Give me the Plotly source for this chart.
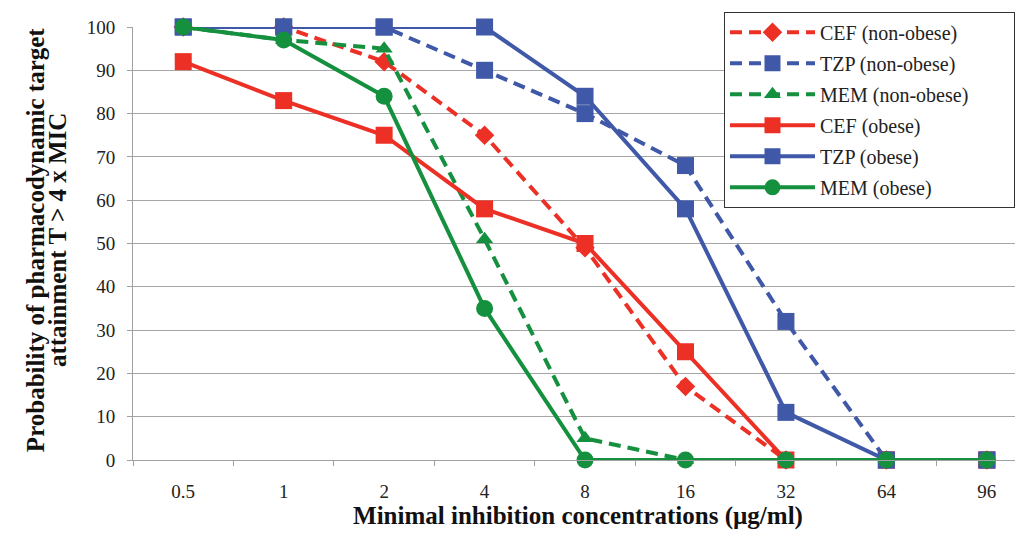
import plotly.graph_objects as go

categories = ["0.5", "1", "2", "4", "8", "16", "32", "64", "96"]

cef_nonobese = [100, 100, 92, 75, 49, 17, 0, 0, 0]
tzp_nonobese = [100, 100, 100, 90, 80, 68, 32, 0, 0]
mem_nonobese = [100, 97, 95, 51, 5, 0, 0, 0, 0]
cef_obese = [92, 83, 75, 58, 50, 25, 0, 0, 0]
tzp_obese = [100, 100, 100, 100, 84, 58, 11, 0, 0]
mem_obese = [100, 97, 84, 35, 0, 0, 0, 0, 0]

y_title_lines = ["Probability of pharmacodynamic target", "attainment T > 4 x MIC"]
x_title = "Minimal inhibition concentrations (µg/ml)"

RED = "#EC3026"
BLUE = "#4058A8"
GREEN = "#15903F"
DASH = "12px,7px"

series = [
    ("CEF (non-obese)", cef_nonobese, RED, DASH, "diamond", 15),
    ("TZP (non-obese)", tzp_nonobese, BLUE, DASH, "square", 17),
    ("MEM (non-obese)", mem_nonobese, GREEN, DASH, "triangle-up", 15),
    ("CEF (obese)", cef_obese, RED, "solid", "square", 17),
    ("TZP (obese)", tzp_obese, BLUE, "solid", "square", 17),
    ("MEM (obese)", mem_obese, GREEN, "solid", "circle", 17),
]

PAD = "\u00a0" * 8

fig = go.Figure()
for i, (name, vals, color, dash, sym, size) in enumerate(series):
    fig.add_trace(go.Scatter(
        x=categories, y=vals, name=name + PAD, mode="lines+markers",
        line=dict(color=color, width=4, dash=dash),
        marker=dict(color=color, symbol=sym, size=size),
        cliponaxis=False, legendgroup=f"g{i}",
    ))

font_family = "Liberation Serif, Times New Roman, serif"

# page body has an 8px margin; compensate so the plot sits where the reference has it
fig.update_layout(
    width=1023, height=536,
    margin=dict(l=125, r=8, t=19, b=84, autoexpand=False),
    paper_bgcolor="white", plot_bgcolor="white",
    font=dict(family=font_family, size=19, color="#222222"),
    showlegend=True,
    legend=dict(
        x=0.991, xanchor="right", y=1.035, yanchor="top",
        bgcolor="white", bordercolor="#333333", borderwidth=1,
        font=dict(family=font_family, size=20, color="#222222"),
        itemwidth=85, tracegroupgap=2,
    ),
    xaxis=dict(
        type="category", range=[-0.5, 8.36], automargin=False,
        showgrid=False, showline=True, linecolor="#A0A0A0", linewidth=1,
        ticks="outside", ticklen=5, tickcolor="#A0A0A0", tickson="boundaries",
        ticklabelstandoff=14,
        tickfont=dict(family=font_family, size=19, color="#222222"),
        title=dict(text="<b>" + x_title + "</b>",
                   font=dict(family=font_family, size=25, color="#111111"), standoff=4),
    ),
    yaxis=dict(
        range=[0, 100], tickmode="array", tickvals=list(range(0, 101, 10)),
        automargin=False,
        showgrid=True, gridcolor="#A6A6A6", gridwidth=1,
        showline=True, linecolor="#A0A0A0", linewidth=1,
        ticks="outside", ticklen=5, tickcolor="#A0A0A0",
        ticklabelstandoff=8,
        zeroline=False,
        tickfont=dict(family=font_family, size=19, color="#222222"),
    ),
)

for xpos, line in zip([-0.110, -0.0854], y_title_lines):
    fig.add_annotation(
        text="<b>" + line + "</b>", textangle=-90,
        xref="paper", yref="paper", x=xpos, y=0.508,
        xanchor="center", yanchor="middle", showarrow=False,
        font=dict(family=font_family, size=25, color="#111111"),
    )

fig.write_html("out.html")
